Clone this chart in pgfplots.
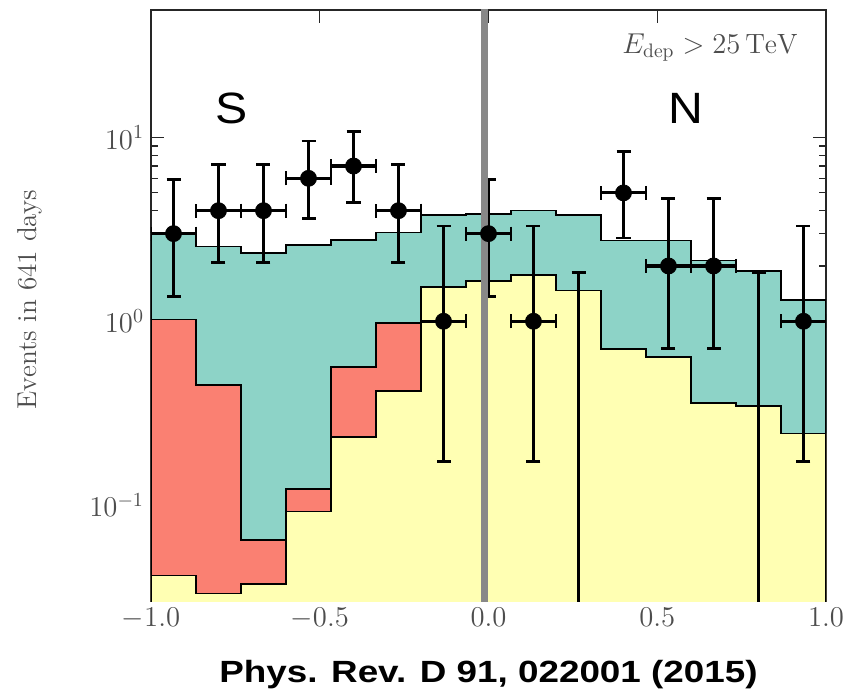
\documentclass[border=0pt]{standalone}
\usepackage{fontspec}
\usepackage{pgfplots}
\pgfplotsset{compat=1.18}
\newfontfamily\arial{Liberation Sans}
\definecolor{hteal}{HTML}{8DD3C7}
\definecolor{hyellow}{HTML}{FFFFB3}
\definecolor{hred}{HTML}{FA8072}
\definecolor{txtgray}{HTML}{4D4D4D}
\definecolor{zerogray}{HTML}{888888}

\begin{document}
\begin{tikzpicture}
\begin{axis}[
  scale only axis,
  width=337.5bp, height=295.5bp,
  xmin=-1, xmax=1,
  ymode=log, ymin=0.03, ymax=49.5,
  xtick={-1,-0.5,0,0.5,1},
  xticklabels={$-1.0$,$-0.5$,$0.0$,$0.5$,$1.0$},
  ytick={0.1,1,10},
  tick align=inside,
  major tick length=6.5bp, minor tick length=3.5bp,
  axis line style={black!85, line width=0.7bp},
  tick style={black!85, line width=0.6bp},
  tick label style={font=\fontsize{13.7}{16}\selectfont, text=txtgray},
  ylabel={Events in 641 days},
  ylabel style={at={(axis description cs:-0.1615,0.51)}, anchor=south, inner sep=0pt,
    font=\fontsize{13.7}{16}\selectfont, text=txtgray},
]
% total (teal on top)
\addplot[const plot, fill=hteal, draw=black, line width=0.8bp] coordinates {
  (-1,0.001) (-1,3.02) (-0.8667,2.55) (-0.7333,2.35) (-0.6,2.60) (-0.4667,2.76)
  (-0.3333,3.05) (-0.2,3.80) (-0.0667,3.83) (0.0667,4.00) (0.2,3.79)
  (0.3333,2.75) (0.4667,2.75) (0.6,2.14) (0.7333,1.88) (0.8667,1.31)
  (1,1.31) (1,0.001)};
% yellow + red
\addplot[const plot, fill=hred, draw=black, line width=0.8bp] coordinates {
  (-1,0.001) (-1,1.02) (-0.8667,0.449) (-0.7333,0.0645) (-0.6,0.122) (-0.4667,0.565)
  (-0.3333,0.978) (-0.2,1.54) (-0.0667,1.66) (0.0667,1.79) (0.2,1.47)
  (0.3333,0.706) (0.4667,0.64) (0.6,0.358) (0.7333,0.345) (0.8667,0.245)
  (1,0.245) (1,0.001)};
% yellow
\addplot[const plot, fill=hyellow, draw=black, line width=0.8bp] coordinates {
  (-1,0.001) (-1,0.0414) (-0.8667,0.033) (-0.7333,0.037) (-0.6,0.0919) (-0.4667,0.235)
  (-0.3333,0.418) (-0.2,1.54) (-0.0667,1.66) (0.0667,1.79) (0.2,1.47)
  (0.3333,0.706) (0.4667,0.64) (0.6,0.358) (0.7333,0.345) (0.8667,0.245)
  (1,0.245) (1,0.001)};
% bins with zero events: upper limit only
\addplot[draw=none, mark=none,
  error bars/.cd, y dir=plus, y explicit,
  error bar style={line width=1.6bp, black},
  error mark options={rotate=90, mark size=3.5bp, line width=1.4bp, black}]
  coordinates {
  (0.2667,0.001) += (0,1.84) -= (0,0)
  (0.8,0.001) += (0,1.84) -= (0,0)};
% observed events
\addplot[only marks, mark=*, mark size=4bp, black,
  error bars/.cd, x dir=both, x explicit, y dir=both, y explicit,
  error bar style={line width=1.6bp, black},
  error mark options={rotate=90, mark size=3.5bp, line width=1.4bp, black}]
  coordinates {
  (-0.9333,3) += (0.0667,2.92) -= (0.0667,1.63)
  (-0.8,4) += (0.0667,3.16) -= (0.0667,1.91)
  (-0.6667,4) += (0.0667,3.16) -= (0.0667,1.91)
  (-0.5333,6) += (0.0667,3.58) -= (0.0667,2.38)
  (-0.4,7) += (0.0667,3.77) -= (0.0667,2.58)
  (-0.2667,4) += (0.0667,3.16) -= (0.0667,1.91)
  (-0.1333,1) += (0.0667,2.30) -= (0.0667,0.827)
  (0.0,3) += (0.0667,2.92) -= (0.0667,1.63)
  (0.1333,1) += (0.0667,2.30) -= (0.0667,0.827)
  (0.4,5) += (0.0667,3.38) -= (0.0667,2.16)
  (0.5333,2) += (0.0667,2.64) -= (0.0667,1.29)
  (0.6667,2) += (0.0667,2.64) -= (0.0667,1.29)
  (0.9333,1) += (0.0667,2.30) -= (0.0667,0.827)};
% hemisphere divider
\addplot[zerogray, line width=3.5bp] coordinates {(-0.011,0.01) (-0.011,100)};
\node[font=\arial\fontsize{22}{26}\selectfont, xscale=1.1] at (axis cs:-0.76,14.4) {S};
\node[font=\arial\fontsize{22}{26}\selectfont, xscale=1.1] at (axis cs:0.585,14.4) {N};
\node[anchor=base east, inner sep=0pt, text=txtgray, font=\fontsize{14}{16}\selectfont]
  at (rel axis cs:0.9585,0.927) {$E_{\mathrm{dep}} > 25\,\mathrm{TeV}$};
\end{axis}
\node[anchor=base, inner sep=0pt, xscale=1.2, font=\arial\bfseries\fontsize{15.4}{18}\selectfont]
  at ([yshift=-40.5bp]current axis.south) {Phys. Rev. D 91, 022001 (2015)};
\path (current axis.south west) ++(-75.5bp,-46bp) coordinate (bbA);
\path (current axis.north east) ++(18.5bp,5bp) coordinate (bbB);
\path (bbA) rectangle (bbB);
\end{tikzpicture}
\end{document}
